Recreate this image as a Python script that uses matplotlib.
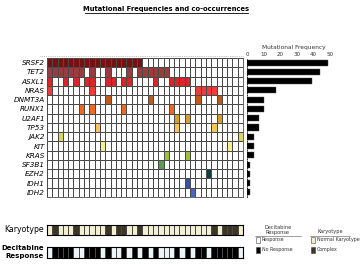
import matplotlib
matplotlib.use("Agg")
import matplotlib.pyplot as plt
import numpy as np
from matplotlib import font_manager
from matplotlib.colors import ListedColormap
from matplotlib.lines import Line2D
from matplotlib.patches import Rectangle

plt.rcParams['font.family'] = ['DejaVu Sans']
installed = {f.name for f in font_manager.fontManager.ttflist}
if "Liberation Sans Narrow" in installed:
    title_font, title_size = "Liberation Sans Narrow", 6.2
else:
    title_font, title_size = "DejaVu Sans", 4.9

# --- data ---
genes = ["SRSF2", "TET2", "ASXL1", "NRAS", "DNMT3A", "RUNX1", "U2AF1", "TP53",
         "JAK2", "KIT", "KRAS", "SF3B1", "EZH2", "IDH1", "IDH2"]
gene_colors = ["#7a0f12", "#9b3b3b", "#d8262a", "#ee3b3b", "#c05a1c", "#ef6a1e",
               "#d4a12c", "#f6c35e", "#d9d46a", "#f7f08a", "#9cc23c", "#5e9a5a",
               "#0f3f3f", "#3552a8", "#4a66c4"]
n_patients = 37
mutated_cols = {
    "SRSF2": [0, 1, 2, 3, 4, 5, 6, 7, 8, 9, 10, 11, 12, 13, 14, 15, 16, 17],
    "TET2": [0, 1, 2, 3, 4, 5, 6, 8, 11, 15, 17, 18, 19, 20, 21, 22],
    "ASXL1": [0, 3, 5, 7, 8, 11, 12, 14, 15, 20, 23, 24, 25, 26],
    "NRAS": [0, 8, 28, 29, 30, 31],
    "DNMT3A": [11, 19, 28, 32],
    "RUNX1": [6, 8, 14, 23],
    "U2AF1": [24, 26, 32],
    "TP53": [9, 24, 31],
    "JAK2": [2, 36],
    "KIT": [10, 34],
    "KRAS": [22, 26],
    "SF3B1": [21],
    "EZH2": [30],
    "IDH1": [26],
    "IDH2": [27],
}
freq = [49, 44, 39, 17.5, 10, 10, 7, 7, 4.5, 4.5, 4.5, 2, 2, 2, 2]
freq_ticks = [0, 10, 20, 30, 40, 50]
# 0 = normal, 1 = complex
karyotype = [0, 1, 0, 0, 0, 1, 0, 0, 0, 0, 0, 1, 0, 1, 1, 0, 0, 1, 0, 0, 0, 0, 0,
             0, 0, 0, 0, 0, 0, 0, 0, 1, 0, 1, 1, 1, 0]
# 1 = response, 0 = no response
response = [1, 0, 0, 0, 0, 1, 1, 0, 0, 0, 1, 0, 1, 1, 0, 1, 0, 1, 0, 1, 0, 1, 1,
            1, 0, 1, 0, 1, 0, 0, 1, 0, 0, 0, 0, 0, 1]

W, H = 361, 270
fig = plt.figure(figsize=(W / 100, H / 100), dpi=100)


def px_axes(x0, y0, x1, y1):
    # pixel box (top-left origin) -> figure axes
    return fig.add_axes((x0 / W, 1 - y1 / H, (x1 - x0) / W, (y1 - y0) / H))


# matrix of mutations
mat = np.zeros((len(genes), n_patients))
for i, g in enumerate(genes):
    for c in mutated_cols[g]:
        mat[i, c] = i + 1
cmap = ListedColormap(["white"] + gene_colors)

ax_grid = px_axes(47, 58, 243, 197)
ax_grid.pcolormesh(mat, cmap=cmap, vmin=-0.5, vmax=len(genes) + 0.5,
                   edgecolors="#4a4a4a", linewidth=0.7)
ax_grid.set_xlim(0, n_patients)
ax_grid.set_ylim(len(genes), 0)
ax_grid.set_xticks([])
ax_grid.set_yticks(np.arange(len(genes)) + 0.5)
ax_grid.set_yticklabels(genes, fontsize=5.2, style="italic")
ax_grid.tick_params(axis="y", length=0, pad=1.5)
for s in ax_grid.spines.values():
    s.set_linewidth(0.6)
    s.set_color("#4a4a4a")
fig.add_artist(Line2D([40 / W, 243 / W], [1 - 56 / H, 1 - 56 / H], color="#888888",
                      lw=0.5, ls=":"))

# frequency bars
ax_bar = px_axes(247, 58, 340, 197)
ax_bar.barh(np.arange(len(genes)), freq, height=0.65, color="black",
            edgecolor="#555555", linewidth=0.3)
ax_bar.set_xlim(0, 56)
ax_bar.set_ylim(len(genes) - 0.5, -0.5)
ax_bar.xaxis.tick_top()
ax_bar.xaxis.set_label_position("top")
ax_bar.set_xticks(freq_ticks)
ax_bar.set_xticklabels([str(t) for t in freq_ticks], fontsize=4, color="#333333")
ax_bar.tick_params(axis="x", length=0, pad=1)
ax_bar.set_xlabel("Mutational Frequency", fontsize=4.2, color="#333333", labelpad=2)
ax_bar.set_yticks([])
for k in ["top", "right", "bottom"]:
    ax_bar.spines[k].set_visible(False)
ax_bar.spines["left"].set_linestyle(":")
ax_bar.spines["left"].set_linewidth(0.6)

# karyotype strip
kary_colors = ListedColormap(["#f3efd2", "#3d3526"])
ax_k = px_axes(47, 225, 243, 235)
ax_k.pcolormesh(np.array([karyotype]), cmap=kary_colors, vmin=0, vmax=1,
                edgecolors="#4a4a4a", linewidth=0.6)
ax_k.set_xlim(0, n_patients)
ax_k.set_xticks([])
ax_k.set_yticks([])
fig.text(44 / W, 1 - 230 / H, "Karyotype", ha="right", va="center", fontsize=5.6)

# response strip
resp_colors = ListedColormap(["black", "#eef3f6"])
ax_r = px_axes(47, 247, 243, 258)
ax_r.pcolormesh(np.array([response]), cmap=resp_colors, vmin=0, vmax=1,
                edgecolors="#4a4a4a", linewidth=0.6)
ax_r.set_xlim(0, n_patients)
ax_r.set_xticks([])
ax_r.set_yticks([])
fig.text(44 / W, 1 - 252 / H, "Decitabine\nResponse", ha="right", va="center",
         fontsize=5.0, fontweight="bold", linespacing=1.4)

# title with underline
fig.text(166 / W, 1 - 9 / H, "Mutational Frequencies and co-occurrences",
         ha="center", va="center", fontsize=title_size, fontweight="bold",
         family=title_font)
fig.add_artist(Line2D([85 / W, 248 / W], [1 - 13 / H, 1 - 13 / H], color="black", lw=0.6))

# legend
fig.text(278 / W, 1 - 230 / H, "Decitabine\nResponse", ha="center", va="center",
         fontsize=3.6, color="#333333", linespacing=1.1)
fig.text(330 / W, 1 - 232 / H, "Karyotype", ha="center", va="center",
         fontsize=3.6, color="#333333")
fig.add_artist(Line2D([255 / W, 301 / W], [1 - 236 / H, 1 - 236 / H], color="#555555", lw=0.4))
fig.add_artist(Line2D([310 / W, 350 / W], [1 - 236 / H, 1 - 236 / H], color="#555555", lw=0.4))
legend_items = [
    (256, 240, "white", "Response"),
    (256, 250, "black", "No Response"),
    (311, 240, "#f3efd2", "Normal Karyotype"),
    (311, 250, "#3d3526", "Complex"),
]
for x, y, c, lab in legend_items:
    fig.add_artist(Rectangle((x / W, 1 - (y + 3) / H), 4 / W, 6 / H, facecolor=c,
                             edgecolor="#444444", linewidth=0.4))
    fig.text((x + 6) / W, 1 - y / H, lab, ha="left", va="center", fontsize=3.4,
             color="#333333")

fig.savefig("out.png", dpi=100)
